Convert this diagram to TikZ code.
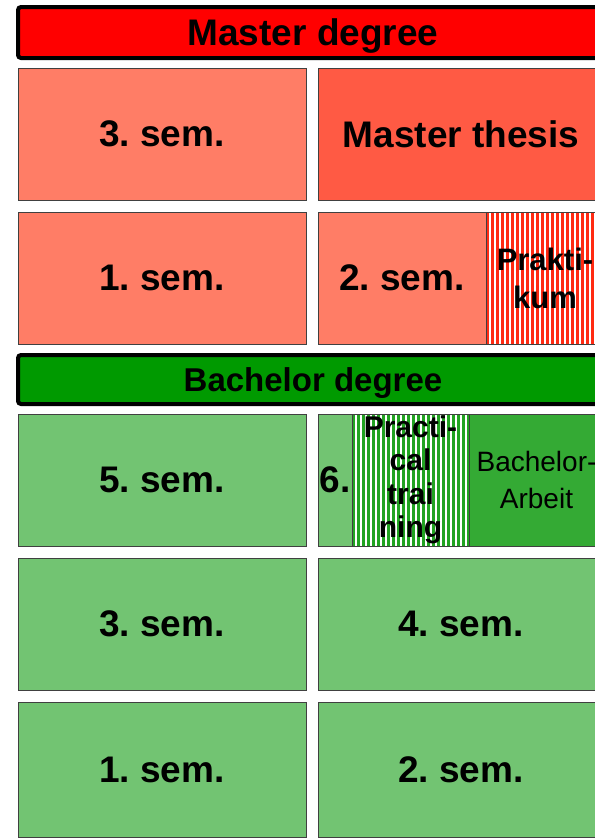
\documentclass[tikz,border=0pt]{standalone}
\usepackage{fontspec}
\setmainfont{Liberation Sans}
\usetikzlibrary{positioning}
\definecolor{stBarRed}{HTML}{FF0000}
\definecolor{stBarGreen}{HTML}{009A00}
\definecolor{stSemRed}{HTML}{FF7D66}
\definecolor{stThesis}{HTML}{FF5A44}
\definecolor{stStripeRed}{HTML}{FF2A12}
\definecolor{stSemGreen}{HTML}{72C472}
\definecolor{stArbeit}{HTML}{34AA34}
\definecolor{stStripeGreen}{HTML}{22A322}
\tikzset{
  bar/.style        ={draw=black,line width=4pt,rounded corners=3pt,anchor=north west,
                      inner sep=0pt,outer sep=0pt,text depth=0pt,
                      font=\fontsize{37}{40}\selectfont\bfseries},
  sem/.style        ={draw=black!75,line width=0.8pt,anchor=north west,inner sep=0pt,
                      outer sep=0pt,minimum height=132pt,align=center,
                      font=\fontsize{37}{40}\selectfont\bfseries},
  redsem/.style     ={sem,fill=stSemRed},
  thesis/.style     ={sem,fill=stThesis},
  greensem/.style   ={sem,fill=stSemGreen},
  arbeit/.style     ={sem,fill=stArbeit,font=\fontsize{28}{37}\selectfont},
  stripes/.style    ={sem,fill=white,path picture={
                      \foreach \x in {0,5,...,125}
                        \fill[#1] ([xshift=\x pt]path picture bounding box.north west)
                          rectangle ++(3pt,-140pt);}},
  %% practical parts
  prakbox/.style    ={stripes=stStripeRed,font=\fontsize{31}{38}\selectfont\bfseries},
  trainbox/.style   ={stripes=stStripeGreen,font=\fontsize{30}{33.5}\selectfont\bfseries},
}
\begin{document}
\frenchspacing
\begin{tikzpicture}[x=1pt,y=-1pt]
\clip (0,0) rectangle (595,839);
\fill[white] (0,0) rectangle (595,839);

\node[bar,fill=stBarRed,minimum width=590pt,minimum height=51pt] (mdeg) at (18,7) {Master degree};
\node[redsem,minimum width=288pt] (m3) at (18,68) {3. sem.};
\node[thesis,minimum width=286pt] (mthesis) at (318,68) {Master thesis};
\node[redsem,minimum width=288pt] (m1) at (18,212) {1. sem.};
\node[redsem,minimum width=168pt] (m2) at (318,212) {2. sem.};
\node[prakbox,minimum width=118pt,right=0pt of m2] (mprak) {Prakti-\\kum};

\node[bar,fill=stBarGreen,minimum width=590pt,minimum height=49pt,
      font=\fontsize{33}{36}\selectfont\bfseries] (bdeg) at (18,355) {Bachelor degree};
\node[greensem,minimum width=288pt] (b5) at (18,414) {5. sem.};
\node[greensem,minimum width=34pt] (b6) at (318,414) {6.};
\node[trainbox,minimum width=117pt,right=0pt of b6] (btrain) {Practi-\\cal\\trai\\ning};
\node[arbeit,minimum width=135pt,right=0pt of btrain] (barbeit) {Bachelor-\\Arbeit};

\foreach \y/\l/\r/\h in {558/3/4/132, 702/1/2/135}
  { \node[greensem,minimum width=288pt,minimum height=\h pt] (b\l) at (18,\y) {\l. sem.};
    \node[greensem,minimum width=286pt,minimum height=\h pt] (b\r) at (318,\y) {\r. sem.}; }
\end{tikzpicture}
\end{document}
